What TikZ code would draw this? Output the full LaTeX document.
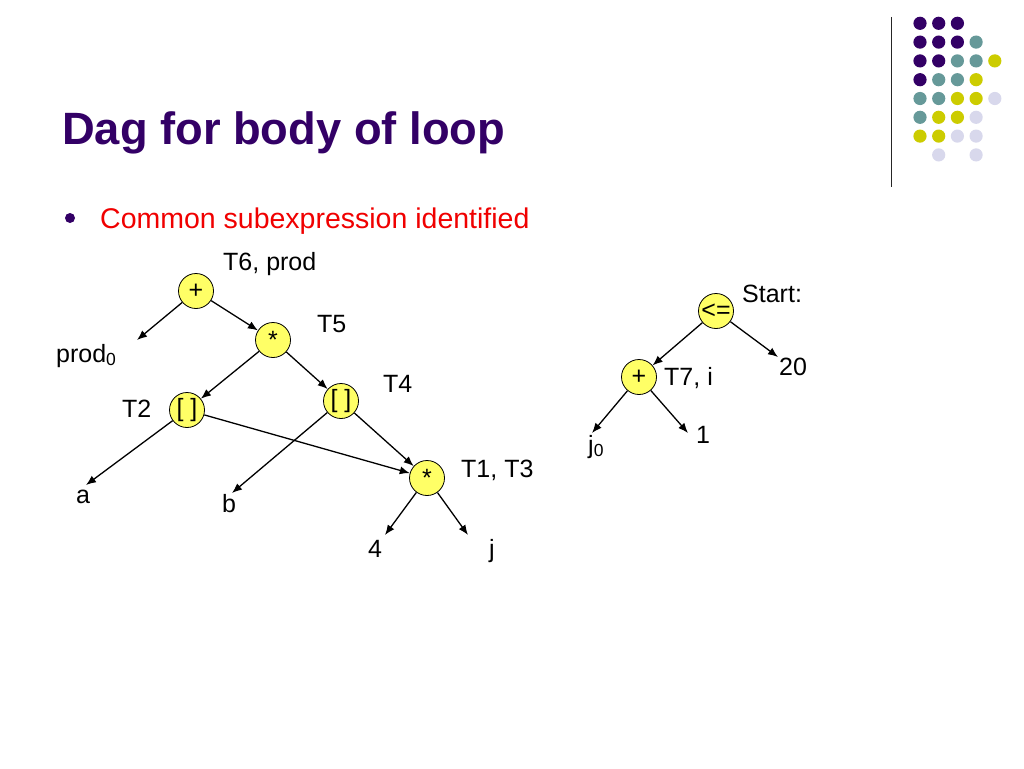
\documentclass[tikz,border=0pt]{standalone}
\usepackage{fontspec}
\setmainfont{Liberation Sans}
\usepackage{xcolor}
\usetikzlibrary{
    arrows.meta,
    positioning
}
\definecolor{gp}{HTML}{330066}
\definecolor{gt}{HTML}{669999}
\definecolor{gy}{HTML}{CCCC00}
\definecolor{gl}{HTML}{D8D8EC}
\definecolor{opyellow}{HTML}{FFFF66}
\definecolor{bulletred}{HTML}{F00000}

\begin{document}
\begin{tikzpicture}[x=1pt, y=-1pt,
    op/.style={circle, draw, line width=0.8pt, fill=opyellow, minimum size=35pt, inner sep=0pt, font=\fontsize{25}{30}\selectfont},
    lbl/.style={anchor=base west, inner sep=0pt, font=\fontsize{25}{30}\selectfont},
    link/.style={-{Latex[length=10pt,width=8pt]}, line width=1.3pt}]
                                \useasboundingbox (0,0) rectangle (1024,768);
                                % corner decoration
                                \draw[line width=1.2pt, black!85] (891.5,17) -- (891.5,187);
                                \foreach \row/\cols in {0/{gp,gp,gp}, 1/{gp,gp,gp,gt}, 2/{gp,gp,gt,gt,gy},
                                    3/{gp,gt,gt,gy}, 4/{gt,gt,gy,gy,gl}, 5/{gt,gy,gy,gl},
                                    6/{gy,gy,gl,gl}, 7/{none,gl,none,gl}}
                                    \foreach \c [count=\col from 0] in \cols
                                        \fill[fill=\c] ({920+18.7*\col}, {23.3+18.8*\row}) circle (6.6);
                                % title and bullet
                                \node[anchor=base west, inner sep=0pt, text=gp, font=\bfseries\fontsize{45.3}{52}\selectfont] (title) at (62,144) {Dag for body of loop};
                                \fill[gp] (70,218) circle (5);
                                \node[anchor=base west, inner sep=0pt, text=bulletred, font=\fontsize{28.5}{34}\selectfont] (point) at (100,228) {Common subexpression identified};
                                % body dag
                                \node[op] (plus1) at (196,291) {+};
                                \node[op] (mul1) at (273,340) {*};
                                \node[op] (idx1) at (187,410) {[ ]};
                                \node[op] (idx2) at (341,401) {[ ]};
                                \node[op] (mul2) at (427,478) {*};
                                \node[lbl] (t6) at (223,270) {T6, prod};
                                \node[lbl] (t5) at (317,332) {T5};
                                \node[lbl] (t2) at (122,417) {T2};
                                \node[lbl] (t4) at (383,392) {T4};
                                \node[lbl] (t13) at (461,477) {T1, T3};
                                \node[lbl] (prod0) at (56,362) {prod\textsubscript{0}};
                                \node[lbl] (a) at (76,503) {a};
                                \node[lbl] (b) at (222,512) {b};
                                \node[lbl] (four) at (368,557) {4};
                                \node[lbl] (j) at (489,557) {j};
                                \coordinate (prod0in) at (137,340);
                                \coordinate (ain) at (86,485);
                                \coordinate (bin) at (232,493);
                                \coordinate (fourin) at (385,535);
                                \coordinate (jin) at (468,535);
                                \draw[link] (plus1) -- (prod0in);
                                \draw[link] (plus1) -- (mul1);
                                \draw[link] (mul1) -- (idx1);
                                \draw[link] (mul1) -- (idx2);
                                \draw[link] (idx1) -- (ain);
                                \draw[link] (idx1) -- (mul2);
                                \draw[link] (idx2) -- (bin);
                                \draw[link] (idx2) -- (mul2);
                                \draw[link] (mul2) -- (fourin);
                                \draw[link] (mul2) -- (jin);
                                % loop test dag
                                \node[op] (le) at (716,311) {<=};
                                \node[op] (plus2) at (639,377) {+};
                                \node[lbl] (start) at (742,302) {Start:};
                                \node[lbl] (t7) at (664,385) {T7, i};
                                \node[lbl] (twenty) at (779,375) {20};
                                \node[lbl] (one) at (696,443) {1};
                                \node[lbl] (j0) at (588,453) {j\textsubscript{0}};
                                \coordinate (twentyin) at (778,357);
                                \coordinate (j0in) at (592,433);
                                \coordinate (onein) at (688,433);
                                \draw[link] (le) -- (plus2);
                                \draw[link] (le) -- (twentyin);
                                \draw[link] (plus2) -- (j0in);
                                \draw[link] (plus2) -- (onein);
                            \end{tikzpicture}
\end{document}
